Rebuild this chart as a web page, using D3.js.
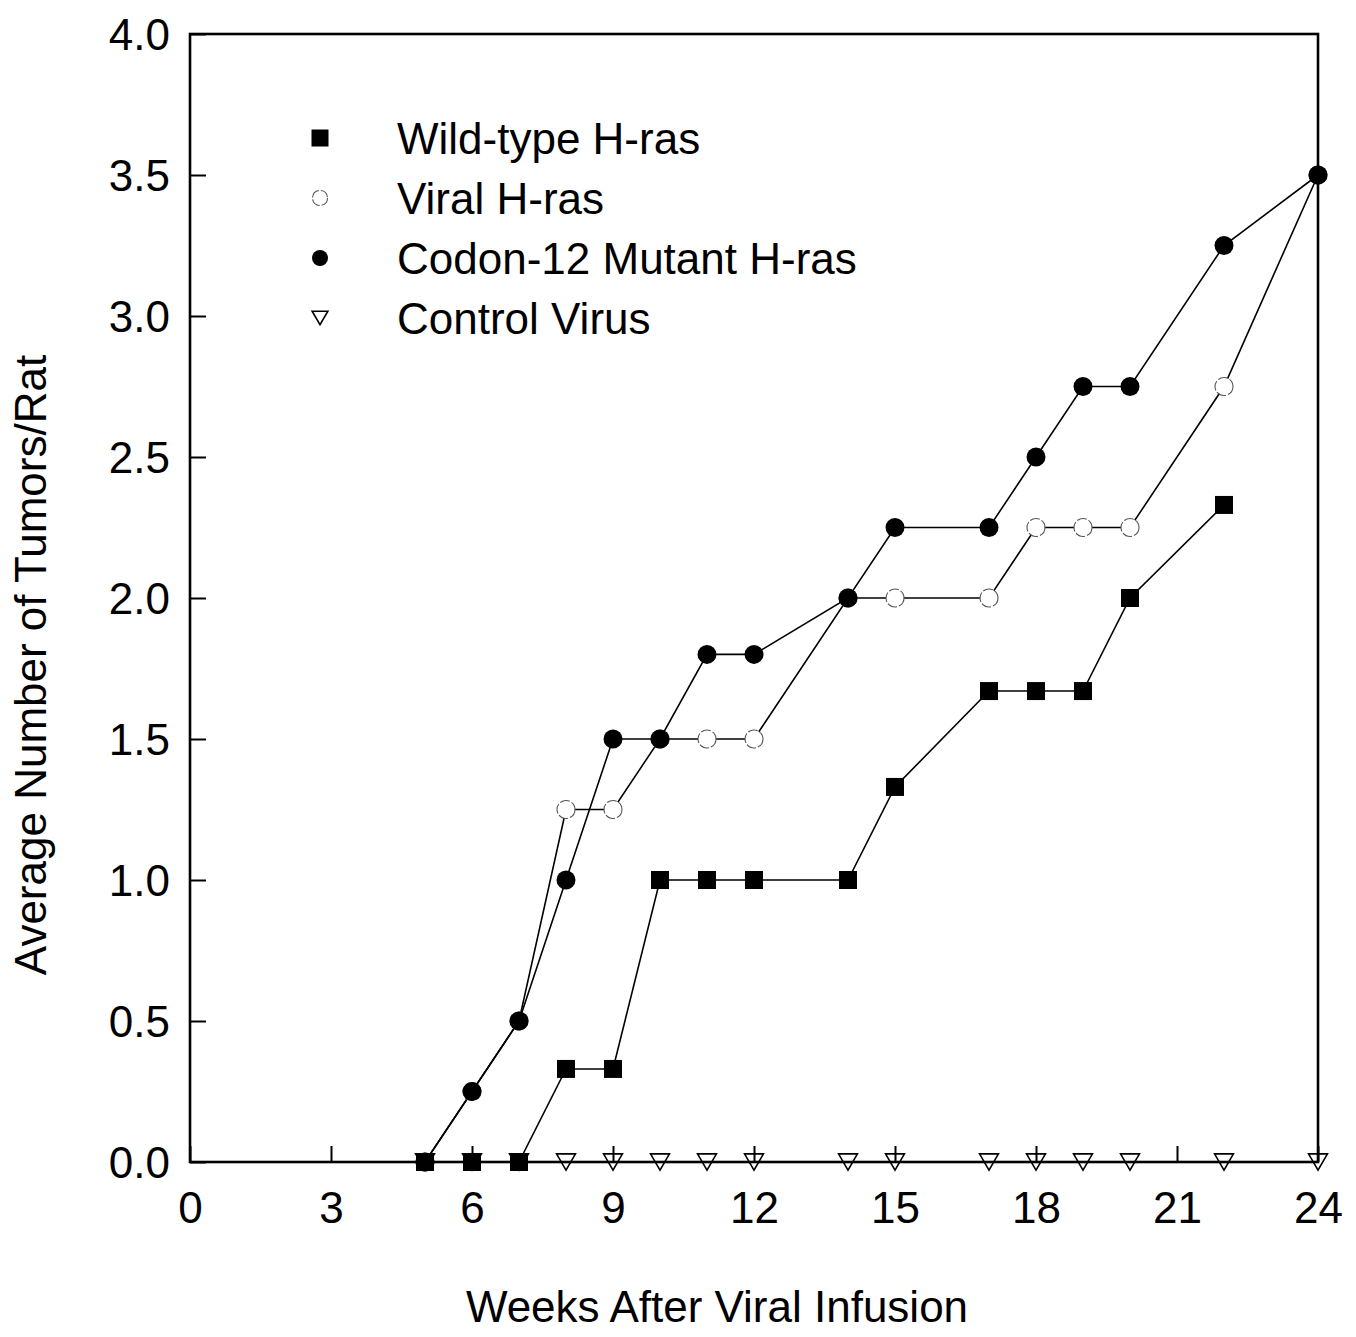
<!DOCTYPE html>
<html>
<head>
<meta charset="utf-8">
<script src="https://cdn.jsdelivr.net/npm/d3@7"></script>
<style>
  body { margin: 0; background: #fff; overflow: hidden; }
  svg { display: block; }
  svg text { font-family: "Liberation Sans", Arial, sans-serif; fill: #000; }
</style>
</head>
<body>
<script>
// series data
let wildWeeks = [5, 6, 7, 8, 9, 10, 11, 12, 14, 15, 17, 18, 19, 20, 22];
let wildValues = [0, 0, 0, 0.33, 0.33, 1.0, 1.0, 1.0, 1.0, 1.33, 1.67, 1.67, 1.67, 2.0, 2.33];

let viralWeeks = [5, 6, 7, 8, 9, 10, 11, 12, 14, 15, 17, 18, 19, 20, 22, 24];
let viralValues = [0, 0.25, 0.5, 1.25, 1.25, 1.5, 1.5, 1.5, 2.0, 2.0, 2.0, 2.25, 2.25, 2.25, 2.75, 3.5];

let codonWeeks = [5, 6, 7, 8, 9, 10, 11, 12, 14, 15, 17, 18, 19, 20, 22, 24];
let codonValues = [0, 0.25, 0.5, 1.0, 1.5, 1.5, 1.8, 1.8, 2.0, 2.25, 2.25, 2.5, 2.75, 2.75, 3.25, 3.5];

let controlWeeks = [5, 6, 7, 8, 9, 10, 11, 12, 14, 15, 17, 18, 19, 20, 22, 24];
let controlValues = [0, 0, 0, 0, 0, 0, 0, 0, 0, 0, 0, 0, 0, 0, 0, 0];

let legendLabels = ['Wild-type H-ras', 'Viral H-ras', 'Codon-12 Mutant H-ras', 'Control Virus'];
let xTicks = [0, 3, 6, 9, 12, 15, 18, 21, 24];
let yTicks = [0, 0.5, 1.0, 1.5, 2.0, 2.5, 3.0, 3.5, 4.0];

//chart constants
let totalWidth = 1356;
let totalHeight = 1337;
let margins = { top: 34, right: 38, bottom: 175, left: 190 };
let innerWidth = totalWidth - margins.left - margins.right;
let innerHeight = totalHeight - margins.top - margins.bottom;

let svg = d3.select('body').append('svg')
    .attr('width', totalWidth)
    .attr('height', totalHeight);

let xScale = d3.scaleLinear().domain([0, 24]).range([margins.left, margins.left + innerWidth]);
let yScale = d3.scaleLinear().domain([0, 4]).range([margins.top + innerHeight, margins.top]);

function zip(weeks, values) {
    return weeks.map((w, i) => ({ x: w, y: values[i] }));
}

// each series: data + marker type
let series = [
    { name: legendLabels[3], data: zip(controlWeeks, controlValues), marker: 'triangle' },
    { name: legendLabels[1], data: zip(viralWeeks, viralValues), marker: 'open' },
    { name: legendLabels[2], data: zip(codonWeeks, codonValues), marker: 'filled' },
    { name: legendLabels[0], data: zip(wildWeeks, wildValues), marker: 'square' }
];

let line = d3.line().x(d => xScale(d.x)).y(d => yScale(d.y));

// lines first
svg.append('g').selectAll('path')
    .data(series)
    .enter()
    .append('path')
    .attr('d', d => line(d.data))
    .attr('fill', 'none')
    .attr('stroke', '#000')
    .attr('stroke-width', 1.6);

function drawMarker(g, type, size) {
    if (type === 'square') {
        g.append('rect')
            .attr('x', -size / 2).attr('y', -size / 2)
            .attr('width', size).attr('height', size)
            .attr('fill', '#000');
    } else if (type === 'filled') {
        g.append('circle').attr('r', size / 2 + 0.5).attr('fill', '#000');
    } else if (type === 'open') {
        g.append('circle').attr('r', size / 2)
            .attr('fill', '#fff').attr('stroke', '#555').attr('stroke-width', 1.1)
            .attr('stroke-dasharray', '10,2');
    } else {
        let w = size * 1.05;
        let h = size * 0.9;
        g.append('path')
            .attr('d', `M${-w / 2},${-h / 2}L${w / 2},${-h / 2}L0,${h / 2}Z`)
            .attr('fill', '#fff').attr('stroke', '#000').attr('stroke-width', 1.6);
    }
}

// markers
series.forEach(s => {
    let g = svg.append('g');
    s.data.forEach(d => {
        let m = g.append('g').attr('transform', `translate(${xScale(d.x)},${yScale(d.y)})`);
        drawMarker(m, s.marker, 18);
    });
});

// axes: ticks point inward
let xAxis = d3.axisBottom(xScale).tickValues(xTicks).tickSize(-16).tickPadding(30).tickFormat(d3.format('d'));
let yAxis = d3.axisLeft(yScale).tickValues(yTicks).tickSize(-16).tickPadding(20).tickFormat(d3.format('.1f'));

let gx = svg.append('g')
    .attr('transform', `translate(0,${margins.top + innerHeight})`)
    .call(xAxis);
let gy = svg.append('g')
    .attr('transform', `translate(${margins.left},0)`)
    .call(yAxis);

[gx, gy].forEach(g => {
    g.select('.domain').remove();
    g.selectAll('.tick line').attr('stroke', '#000').attr('stroke-width', 2);
    g.selectAll('.tick text').style('font-size', '44px').attr('fill', '#000');
});
gy.selectAll('.tick text').attr('dy', '0.36em');

// frame
svg.append('rect')
    .attr('x', margins.left).attr('y', margins.top)
    .attr('width', innerWidth).attr('height', innerHeight)
    .attr('fill', 'none').attr('stroke', '#000').attr('stroke-width', 2.6);

// axis labels
svg.append('text')
    .attr('text-anchor', 'middle')
    .attr('x', 717)
    .attr('y', 1322)
    .style('font-size', '44px')
    .text('Weeks After Viral Infusion');

svg.append('text')
    .attr('text-anchor', 'middle')
    .attr('transform', 'translate(46,665) rotate(-90)')
    .style('font-size', '44px')
    .text('Average Number of Tumors/Rat');

// legend
let legendMarkers = ['square', 'open', 'filled', 'triangle'];
let legend = svg.append('g');
legendLabels.forEach((label, i) => {
    let row = legend.append('g').attr('transform', `translate(320,${138 + i * 60})`);
    drawMarker(row.append('g'), legendMarkers[i], legendMarkers[i] === 'square' ? 17 : 15);
    row.append('text')
        .attr('x', 77)
        .attr('dy', '0.36em')
        .style('font-size', '44px')
        .text(label);
});
</script>
</body>
</html>
